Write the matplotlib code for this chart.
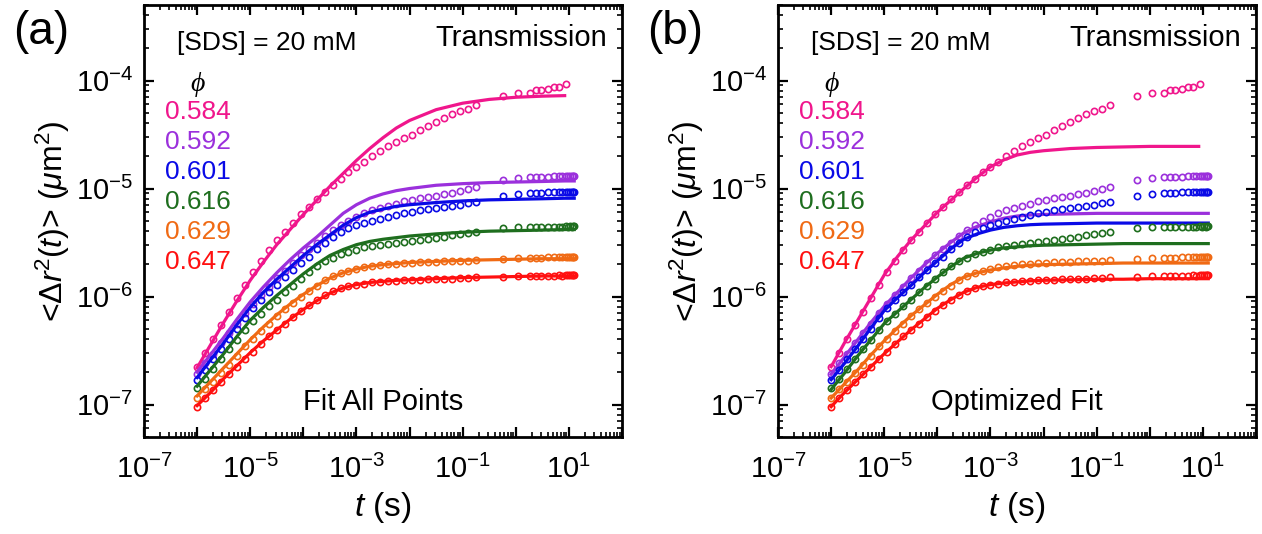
import numpy as np
import matplotlib
matplotlib.use("Agg")
import matplotlib.pyplot as plt
from matplotlib.ticker import FixedLocator, FuncFormatter, LogLocator, NullFormatter

plt.rcParams['font.family'] = ['Liberation Sans', 'DejaVu Sans']
plt.rcParams['mathtext.fontset'] = 'custom'
plt.rcParams['mathtext.rm'] = 'Liberation Sans'
plt.rcParams['mathtext.it'] = 'Liberation Sans:italic'
plt.rcParams['mathtext.default'] = 'regular'

nan = np.nan

# measured points: log10(t / s)
logt_data = [-6.00, -5.85, -5.70, -5.55, -5.40, -5.25, -5.10, -4.95, -4.80, -4.65,
             -4.50, -4.35, -4.20, -4.05, -3.90, -3.75, -3.60, -3.45, -3.30, -3.15,
             -3.00, -2.85, -2.70, -2.55, -2.40, -2.25, -2.10, -1.95, -1.80, -1.65,
             -1.50, -1.35, -1.20, -1.05, -0.90, -0.75,
             -0.25, 0.05, 0.26, 0.38, 0.48, 0.60, 0.71, 0.81, 0.87, 0.94, 0.98, 1.02, 1.05, 1.07, 1.09]

# measured MSD, log10(<dr^2> / um^2), one list per volume fraction
msd_584 = [-6.65, -6.52, -6.39, -6.26, -6.14, -6.01, -5.89, -5.77, -5.67, -5.57,
           -5.48, -5.40, -5.32, -5.24, -5.17, -5.10, -5.03, -4.97, -4.91, -4.85,
           -4.80, -4.75, -4.70, -4.65, -4.61, -4.57, -4.53, -4.50, -4.46, -4.42,
           -4.38, -4.35, -4.31, -4.28, -4.26, -4.23,
           -4.145, -4.12, -4.115, -4.09, -4.09, -4.08, -4.06, -4.06, nan, -4.03, nan, nan, nan, nan, nan]
msd_592 = [-6.72, -6.62, -6.53, -6.43, -6.34, -6.25, -6.15, -6.07, -5.99, -5.91,
           -5.83, -5.76, -5.69, -5.62, -5.56, -5.50, -5.44, -5.38, -5.34, -5.30,
           -5.26, -5.23, -5.20, -5.18, -5.16, -5.14, -5.12, -5.11, -5.09, -5.08,
           -5.065, -5.05, -5.04, -5.025, -5.005, -4.985,
           -4.92, -4.90, -4.895, -4.89, -4.89, -4.89, -4.885, -4.885, -4.885, -4.88, -4.885, -4.88, -4.88, -4.885, -4.88]
msd_601 = [-6.77, -6.68, -6.58, -6.49, -6.39, -6.30, -6.20, -6.11, -6.03, -5.96,
           -5.89, -5.82, -5.75, -5.69, -5.63, -5.56, -5.50, -5.45, -5.40, -5.37,
           -5.34, -5.32, -5.30, -5.28, -5.26, -5.245, -5.23, -5.215, -5.20, -5.19,
           -5.18, -5.17, -5.16, -5.15, -5.135, -5.125,
           -5.065, -5.05, -5.04, -5.04, -5.04, -5.035, -5.035, -5.035, -5.03, -5.03, -5.035, -5.03, -5.03, -5.03, -5.03]
msd_616 = [-6.85, -6.76, -6.67, -6.58, -6.49, -6.40, -6.31, -6.23, -6.16, -6.09,
           -6.03, -5.96, -5.90, -5.84, -5.77, -5.72, -5.675, -5.64, -5.61, -5.585,
           -5.565, -5.545, -5.535, -5.525, -5.515, -5.505, -5.495, -5.485, -5.475, -5.465,
           -5.455, -5.445, -5.435, -5.425, -5.415, -5.40,
           -5.37, -5.36, -5.36, -5.36, -5.36, -5.355, -5.355, -5.355, -5.355, -5.35, -5.355, -5.35, -5.355, -5.35, -5.35]
msd_629 = [-6.94, -6.86, -6.79, -6.71, -6.63, -6.55, -6.46, -6.39, -6.32, -6.25,
           -6.18, -6.12, -6.06, -6.00, -5.95, -5.90, -5.85, -5.81, -5.78, -5.76,
           -5.745, -5.73, -5.72, -5.71, -5.70, -5.695, -5.69, -5.69, -5.685, -5.68,
           -5.68, -5.675, -5.675, -5.67, -5.67, -5.665,
           -5.65, -5.645, -5.64, -5.64, -5.64, -5.635, -5.635, -5.635, -5.635, -5.63, -5.635, -5.63, -5.63, -5.63, -5.63]
msd_647 = [-7.02, -6.94, -6.87, -6.79, -6.72, -6.65, -6.58, -6.51, -6.44, -6.37,
           -6.31, -6.25, -6.19, -6.13, -6.08, -6.03, -5.99, -5.95, -5.925, -5.905,
           -5.89, -5.88, -5.87, -5.865, -5.86, -5.855, -5.85, -5.85, -5.845, -5.84,
           -5.84, -5.835, -5.835, -5.83, -5.825, -5.82,
           -5.815, -5.81, -5.81, -5.81, -5.81, -5.81, -5.81, -5.805, -5.81, -5.805, -5.805, -5.805, -5.805, -5.805, -5.80]

# fit curves: log10(t / s)
logt_fit = [-6.0, -5.75, -5.5, -5.25, -5.0, -4.75, -4.5, -4.25, -4.0, -3.75, -3.5, -3.25,
            -3.0, -2.75, -2.5, -2.25, -2.0, -1.5, -1.0, -0.5, 0.0, 0.5, 0.92, 1.1]

# (a) fit all points
fit_all_584 = [-6.66, -6.45, -6.24, -6.04, -5.85, -5.68, -5.52, -5.38, -5.24, -5.11, -4.98, -4.86,
               -4.74, -4.63, -4.53, -4.44, -4.37, -4.27, -4.21, -4.175, -4.155, -4.145, -4.14, nan]
fit_all_592 = [-6.70, -6.54, -6.38, -6.21, -6.05, -5.91, -5.78, -5.66, -5.55, -5.45, -5.34, -5.23,
               -5.15, -5.09, -5.05, -5.02, -5.00, -4.97, -4.955, -4.945, -4.94, -4.935, -4.93, -4.93]
fit_all_601 = [-6.75, -6.59, -6.43, -6.26, -6.10, -5.96, -5.84, -5.73, -5.62, -5.52, -5.43, -5.34,
               -5.27, -5.22, -5.19, -5.165, -5.15, -5.13, -5.115, -5.105, -5.10, -5.095, -5.09, -5.09]
fit_all_616 = [-6.83, -6.68, -6.53, -6.37, -6.22, -6.10, -5.99, -5.89, -5.79, -5.70, -5.62, -5.565,
               -5.52, -5.49, -5.47, -5.455, -5.44, -5.42, -5.405, -5.395, -5.39, -5.385, -5.38, -5.38]
fit_all_629 = [-6.92, -6.79, -6.66, -6.53, -6.40, -6.28, -6.17, -6.07, -5.98, -5.90, -5.83, -5.78,
               -5.745, -5.72, -5.705, -5.695, -5.685, -5.675, -5.665, -5.66, -5.655, -5.65, -5.65, -5.65]
fit_all_647 = [-7.01, -6.89, -6.76, -6.64, -6.52, -6.41, -6.31, -6.21, -6.12, -6.04, -5.97, -5.92,
               -5.89, -5.87, -5.86, -5.85, -5.845, -5.835, -5.825, -5.82, -5.815, -5.81, -5.81, -5.81]

# (b) optimized fit
fit_opt_584 = [-6.65, -6.43, -6.22, -6.01, -5.80, -5.63, -5.48, -5.35, -5.22, -5.11, -5.00, -4.895,
               -4.80, -4.735, -4.69, -4.665, -4.65, -4.63, -4.62, -4.615, -4.61, -4.61, -4.61, nan]
fit_opt_592 = [-6.72, -6.56, -6.40, -6.24, -6.09, -5.96, -5.83, -5.71, -5.60, -5.50, -5.41, -5.35,
               -5.31, -5.275, -5.255, -5.245, -5.24, -5.235, -5.23, -5.23, -5.23, -5.23, -5.23, -5.23]
fit_opt_601 = [-6.77, -6.62, -6.46, -6.29, -6.13, -6.01, -5.90, -5.78, -5.67, -5.56, -5.47, -5.42,
               -5.385, -5.36, -5.345, -5.335, -5.33, -5.325, -5.32, -5.32, -5.32, -5.32, -5.32, -5.32]
fit_opt_616 = [-6.86, -6.71, -6.55, -6.40, -6.25, -6.14, -6.03, -5.92, -5.82, -5.725, -5.645, -5.60,
               -5.57, -5.55, -5.54, -5.53, -5.525, -5.52, -5.515, -5.51, -5.51, -5.51, -5.51, -5.51]
fit_opt_629 = [-6.94, -6.81, -6.68, -6.54, -6.41, -6.29, -6.18, -6.08, -5.98, -5.89, -5.82, -5.78,
               -5.755, -5.735, -5.72, -5.71, -5.705, -5.70, -5.695, -5.69, -5.69, -5.69, -5.69, -5.69]
fit_opt_647 = [-7.02, -6.89, -6.77, -6.65, -6.53, -6.42, -6.31, -6.21, -6.11, -6.03, -5.96, -5.915,
               -5.89, -5.875, -5.865, -5.855, -5.85, -5.845, -5.84, -5.84, -5.835, -5.835, -5.835, -5.835]

phi_labels = ['0.584', '0.592', '0.601', '0.616', '0.629', '0.647']
colors = ['#F0168C', '#9B30DC', '#0A0AE6', '#1E6E1E', '#F06A14', '#FF1010']
x_ticks = [1e-7, 1e-6, 1e-5, 1e-4, 1e-3, 1e-2, 1e-1, 1e0, 1e1, 1e2]

msd_all = [msd_584, msd_592, msd_601, msd_616, msd_629, msd_647]
fits_a = [fit_all_584, fit_all_592, fit_all_601, fit_all_616, fit_all_629, fit_all_647]
fits_b = [fit_opt_584, fit_opt_592, fit_opt_601, fit_opt_616, fit_opt_629, fit_opt_647]

t_data = 10 ** np.array(logt_data)
t_fit = 10 ** np.array(logt_fit)

fig = plt.figure(figsize=(12.62, 5.34), dpi=100)
ax_a = fig.add_axes([0.1141, 0.1816, 0.3788, 0.809])
ax_b = fig.add_axes([0.6165, 0.1816, 0.3788, 0.809])


def xfmt(v, pos):
    e = int(round(np.log10(v)))
    return r'$10^{%d}$' % e if e % 2 else ''


def setup(ax, panel, note):
    ax.set_xscale('log')
    ax.set_yscale('log')
    ax.set_xlim(1e-7, 1e2)
    ax.set_ylim(5e-8, 5e-4)
    ax.xaxis.set_major_locator(FixedLocator(x_ticks))
    ax.xaxis.set_major_formatter(FuncFormatter(xfmt))
    ax.xaxis.set_minor_locator(LogLocator(base=10, subs=np.arange(2, 10), numticks=20))
    ax.xaxis.set_minor_formatter(NullFormatter())
    ax.yaxis.set_major_locator(LogLocator(base=10, numticks=20))
    ax.yaxis.set_minor_locator(LogLocator(base=10, subs=np.arange(2, 10), numticks=20))
    ax.yaxis.set_minor_formatter(NullFormatter())
    ax.tick_params(which='both', direction='in', top=True, right=True, labelsize=21)
    ax.tick_params(which='major', length=7, width=1.6)
    ax.tick_params(which='minor', length=3.5, width=1.2)
    ax.tick_params(axis='x', which='major', pad=13)
    ax.tick_params(axis='y', which='major', pad=8)
    for s in ax.spines.values():
        s.set_linewidth(2)
    ax.set_xlabel(r'$\it{t}$ (s)', fontsize=24, labelpad=4)
    ax.text(-0.19, 0.5, r'<$\Delta$$\it{r}$$^2$($\it{t}$)> ($\it{\mu}$m$^2$)', rotation=90,
            ha='center', va='center', fontsize=23, transform=ax.transAxes)
    ax.text(0.069, 0.913, '[SDS] = 20 mM', fontsize=19, ha='left', va='center', transform=ax.transAxes)
    ax.text(0.969, 0.924, 'Transmission', fontsize=21, ha='right', va='center', transform=ax.transAxes)
    ax.text(0.5, 0.081, note, fontsize=21, ha='center', va='center', transform=ax.transAxes)
    ax.text(0.113, 0.815, '\u03d5', fontsize=20, style='italic', ha='center', va='center',
            family=['Liberation Serif', 'DejaVu Serif'], transform=ax.transAxes)
    for i, (lab, c) in enumerate(zip(phi_labels, colors)):
        ax.text(0.044, 0.753 - i * 0.0694, lab, color=c, fontsize=19, ha='left', va='center',
                transform=ax.transAxes)
    ax.text(-0.215, 0.938, panel, fontsize=33, ha='center', va='center', transform=ax.transAxes)


for ax, fits, panel, note in [(ax_a, fits_a, '(a)', 'Fit All Points'),
                              (ax_b, fits_b, '(b)', 'Optimized Fit')]:
    for msd, fit, c in zip(msd_all, fits, colors):
        ax.plot(t_fit, 10 ** np.array(fit), color=c, lw=2.3)
        ax.plot(t_data, 10 ** np.array(msd), 'o', mfc='none', mec=c, ms=4.5, mew=1.2)
    setup(ax, panel, note)

fig.savefig('out.png', dpi=100)
